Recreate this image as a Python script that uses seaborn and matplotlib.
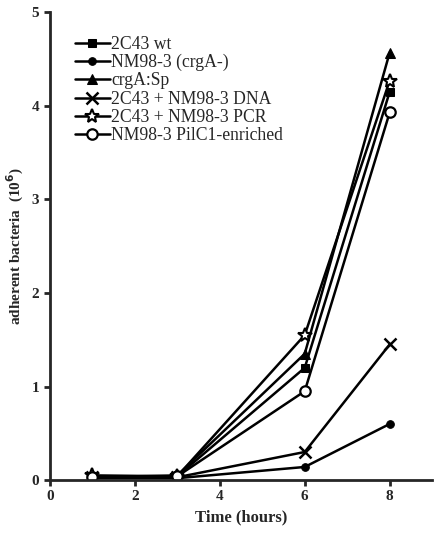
import pandas as pd
import matplotlib
matplotlib.use("Agg")
import matplotlib.pyplot as plt
import seaborn as sns

# Datos
tiempo = [1, 3, 6, 8]
wt_2c43 = [0.03, 0.04, 1.20, 4.15]
nm98_crga = [0.02, 0.02, 0.14, 0.60]
crga_sp = [0.03, 0.05, 1.35, 4.57]
dna_2c43 = [0.03, 0.03, 0.30, 1.45]
pcr_2c43 = [0.05, 0.04, 1.55, 4.27]
pilc1 = [0.03, 0.04, 0.95, 3.93]

series = [
    ("2C43 wt", wt_2c43),
    ("NM98-3 (crgA-)", nm98_crga),
    ("crgA:Sp", crga_sp),
    ("2C43 + NM98-3 DNA", dna_2c43),
    ("2C43 + NM98-3 PCR", pcr_2c43),
    ("NM98-3 PilC1-enriched", pilc1),
]
estilos = [
    dict(marker="s", markerfacecolor="black", markersize=5.5),
    dict(marker="o", markerfacecolor="black", markersize=5.5),
    dict(marker="^", markerfacecolor="black", markersize=6.5),
    dict(marker="x", markersize=8, markeredgewidth=1.8),
    dict(marker="*", markerfacecolor="white", markersize=10, markeredgewidth=1.5),
    dict(marker="o", markerfacecolor="white", markersize=7.5, markeredgewidth=1.6),
]

sns.set_style("ticks")
plt.rcParams["font.family"] = ["Liberation Serif", "DejaVu Serif"]

fig = plt.figure(figsize=(4.37, 5.34), dpi=100)
ax = fig.add_axes([0.114, 0.101, 0.875, 0.876])

for (nombre, valores), est in zip(series, estilos):
    df = pd.DataFrame({"t": tiempo, "y": valores})
    sns.lineplot(data=df, x="t", y="y", ax=ax, color="black", linewidth=1.8,
                 markeredgecolor="black", label=nombre, **est)

ax.set_xlim(0, 9)
ax.set_ylim(0, 5)
ax.set_xticks([0, 2, 4, 6, 8])
ax.set_yticks([0, 1, 2, 3, 4, 5])
ax.tick_params(axis="both", labelsize=11, width=2, length=4)
for lab in ax.get_xticklabels() + ax.get_yticklabels():
    lab.set_fontweight("bold")
for s in ["top", "right"]:
    ax.spines[s].set_visible(False)
for s in ["left", "bottom"]:
    ax.spines[s].set_linewidth(2)

ax.set_xlabel("Time (hours)", fontsize=12, fontweight="bold")
ax.set_ylabel("adherent bacteria  (10$^{\\mathbf{6}}$)", fontsize=11, fontweight="bold")

ax.legend(loc="upper left", bbox_to_anchor=(0.047, 0.965), frameon=False,
          fontsize=12.7, handlelength=2.0, handletextpad=0.05, labelspacing=0.07,
          borderaxespad=0)

fig.savefig("out.png", dpi=100)
